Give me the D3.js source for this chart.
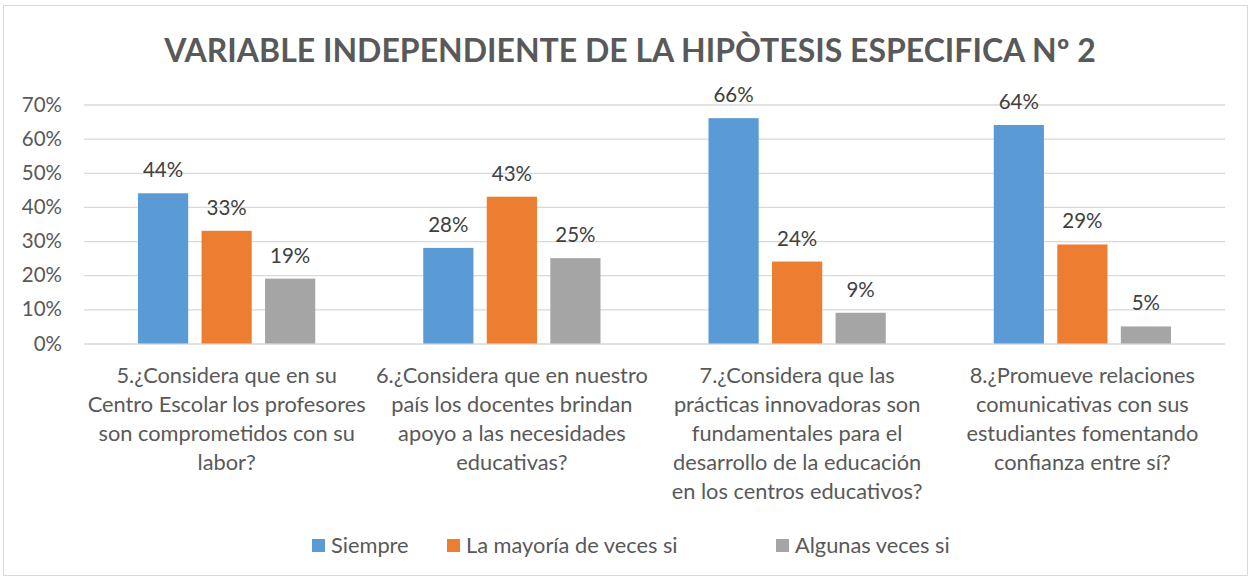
<!DOCTYPE html>
<html>
<head>
<meta charset="utf-8">
<script src="https://cdn.jsdelivr.net/npm/d3@7"></script>
<style>
  body { margin: 0; background: #fff; }
  svg text { font-family: Lato, "Open Sans", sans-serif; }
</style>
</head>
<body>
<script>
const categories = [
  ["5.¿Considera que en su", "Centro Escolar los profesores", "son comprometidos con su", "labor?"],
  ["6.¿Considera que en nuestro", "país los docentes brindan", "apoyo a las necesidades", "educativas?"],
  ["7.¿Considera que las", "prácticas innovadoras son", "fundamentales para el", "desarrollo de la educación", "en los centros educativos?"],
  ["8.¿Promueve relaciones", "comunicativas con sus", "estudiantes fomentando", "confianza entre sí?"]
];
const seriesNames = ["Siempre", "La mayoría de veces si", "Algunas veces si"];
const siempre = [0.44, 0.28, 0.66, 0.64];
const mayoria = [0.33, 0.43, 0.24, 0.29];
const algunas = [0.19, 0.25, 0.09, 0.05];
const yTicks = [0, 0.1, 0.2, 0.3, 0.4, 0.5, 0.6, 0.7];
const colors = ["#5b9bd5", "#ed7d31", "#a5a5a5"];

const width = 1252, height = 580;
const margin = { top: 104.5, right: 27, bottom: 236.5, left: 84 };
const pct = d3.format(".0%");

const svg = d3.select("body").append("svg")
  .attr("width", width)
  .attr("height", height);

svg.append("rect")
  .attr("x", 3.5).attr("y", 5.5)
  .attr("width", 1244).attr("height", 570)
  .attr("fill", "#fff")
  .attr("stroke", "#d9d9d9");

svg.append("text")
  .attr("x", 630).attr("y", 62)
  .attr("text-anchor", "middle")
  .attr("font-size", 32)
  .attr("font-weight", "bold")
  .attr("fill", "#595959")
  .text("VARIABLE INDEPENDIENTE DE LA HIPÒTESIS ESPECIFICA Nº 2");

const x0 = d3.scaleBand()
  .domain(d3.range(categories.length))
  .range([margin.left, width - margin.right]);

const x1 = d3.scaleBand()
  .domain(d3.range(seriesNames.length))
  .range([0, x0.bandwidth()])
  .paddingInner(0.21)
  .paddingOuter(0.85);

const y = d3.scaleLinear()
  .domain([0, 0.7])
  .range([height - margin.bottom, margin.top]);

// gridlines + y labels
const yAxis = svg.append("g")
  .attr("transform", `translate(${margin.left},0)`)
  .call(d3.axisLeft(y).tickValues(yTicks).tickSize(-(width - margin.right - margin.left)).tickFormat(pct).tickPadding(22));
yAxis.select(".domain").remove();
yAxis.selectAll(".tick line").attr("stroke", "#d9d9d9").attr("stroke-width", 1.3);
yAxis.selectAll(".tick text").attr("font-size", 20.5).attr("fill", "#595959");

const data = [siempre, mayoria, algunas];

const groups = svg.append("g").selectAll("g")
  .data(categories)
  .join("g")
  .attr("transform", (d, i) => `translate(${x0(i)},0)`);

groups.selectAll("rect")
  .data((d, i) => data.map((s, k) => ({ k, v: s[i] })))
  .join("rect")
  .attr("x", d => x1(d.k))
  .attr("width", x1.bandwidth())
  .attr("y", d => y(d.v))
  .attr("height", d => y(0) - y(d.v))
  .attr("fill", d => colors[d.k]);

groups.selectAll("text.lbl")
  .data((d, i) => data.map((s, k) => ({ k, v: s[i] })))
  .join("text")
  .attr("class", "lbl")
  .attr("x", d => x1(d.k) + x1.bandwidth() / 2)
  .attr("y", d => y(d.v) - 16)
  .attr("text-anchor", "middle")
  .attr("font-size", 20.5)
  .attr("fill", "#404040")
  .text(d => pct(d.v));

// category labels
groups.append("text")
  .attr("text-anchor", "middle")
  .attr("font-size", 21.8)
  .attr("fill", "#595959")
  .selectAll("tspan")
  .data(d => d)
  .join("tspan")
  .attr("x", x0.bandwidth() / 2)
  .attr("y", (d, j) => 383 + j * 29)
  .text(d => d);

// legend
const legendX = [312, 447, 776];
const legend = svg.append("g").selectAll("g")
  .data(seriesNames)
  .join("g")
  .attr("transform", (d, i) => `translate(${legendX[i]},539)`);
legend.append("rect")
  .attr("width", 13).attr("height", 13)
  .attr("fill", (d, i) => colors[i]);
legend.append("text")
  .attr("x", 19).attr("y", 14)
  .attr("font-size", 21.8)
  .attr("fill", "#595959")
  .text(d => d);
</script>
</body>
</html>
